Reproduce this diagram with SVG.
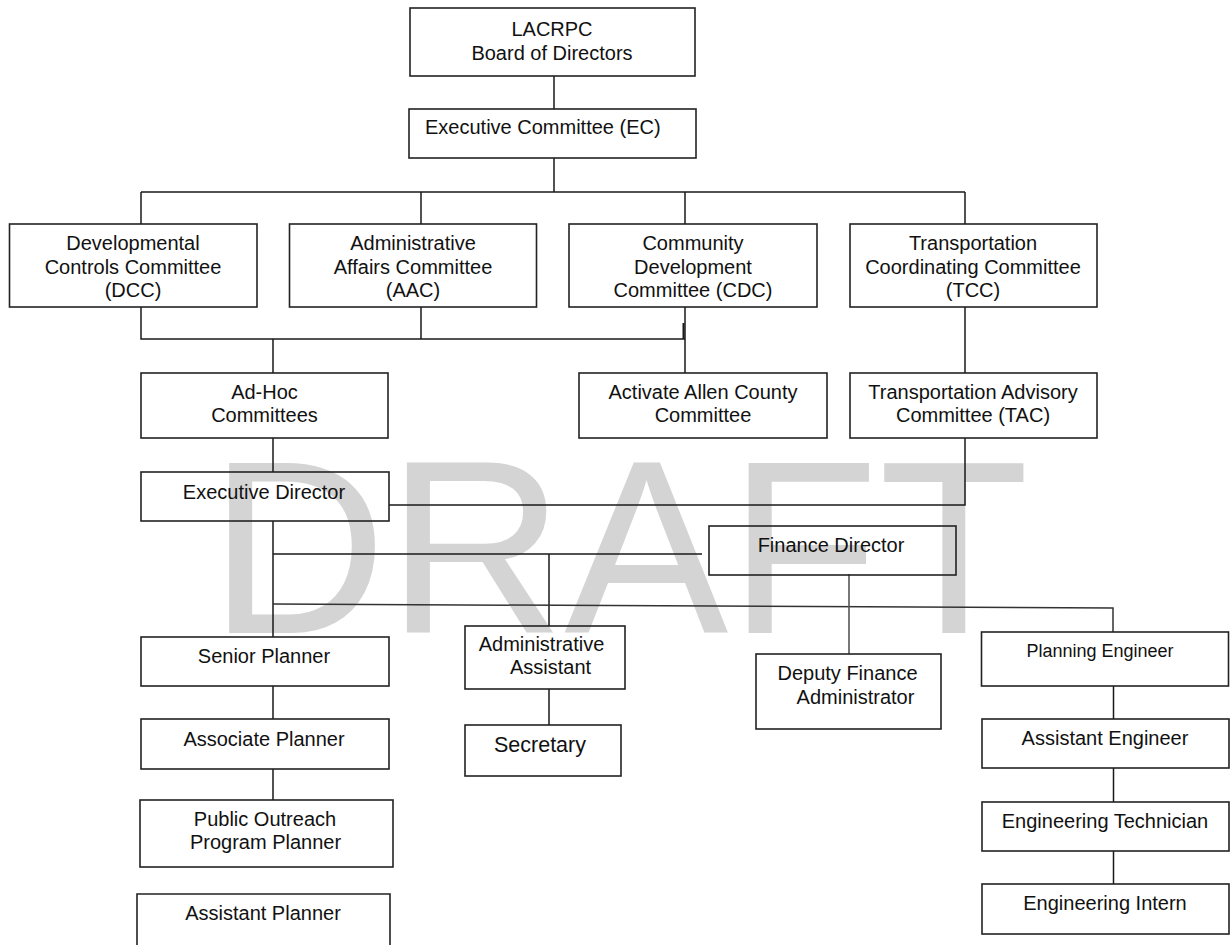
<svg xmlns="http://www.w3.org/2000/svg" width="1231" height="945" viewBox="0 0 1231 945">
<style>
.bx{fill:none;stroke:#222;stroke-width:1.6}
.ln{fill:none;stroke:#1a1a1a;stroke-width:1.5}
.gl{fill:none;stroke:#555;stroke-width:1.6}
text{font-family:"Liberation Sans",Arial,sans-serif;font-size:20px;fill:#111}
.c{text-anchor:middle}
.wm{font-size:246px;fill:#d4d4d4}
</style>
<rect width="1231" height="945" fill="#fff"/>
<text class="wm" x="209" y="633">DRAFT</text>
<g id="connectors">
<path class="ln" d="M554 76V109M554 158V192M141 192H965M141 192V224M421 192V224M685 192V224M965 192V224"/>
<path class="ln" d="M141 307V339H685M421 307V339M273 339V373M685 307V373M965 307V373"/>
<path class="ln" d="M683.5 323V339" style="stroke-width:2"/>
<path class="ln" d="M965 438V505H389M273 438V472"/>
<path class="ln" d="M273 521V637M273 554H702M549 554V626M273 686V719M273 769V800M549 689V725"/>
<path class="ln" d="M273 604L1113 608V632" style="stroke:#333"/>
<path class="gl" d="M849 574V654"/>
<path class="ln" d="M1113.5 686V719M1113.5 768V802M1113.5 851V884"/>
</g>
<g id="board"><rect class="bx" x="410" y="8" width="285" height="68"/><text class="c" x="552" y="36">LACRPC</text><text class="c" x="552" y="60">Board of Directors</text></g>
<g id="ec"><rect class="bx" x="409" y="109" width="287" height="49"/><text x="425" y="134">Executive Committee (EC)</text></g>
<g id="dcc"><rect class="bx" x="9.5" y="224" width="247.5" height="83"/><text class="c" x="133" y="250">Developmental</text><text class="c" x="133" y="273.5">Controls Committee</text><text class="c" x="133" y="297">(DCC)</text></g>
<g id="aac"><rect class="bx" x="289.5" y="224" width="247" height="83"/><text class="c" x="413" y="250">Administrative</text><text class="c" x="413" y="273.5">Affairs Committee</text><text class="c" x="413" y="297">(AAC)</text></g>
<g id="cdc"><rect class="bx" x="569" y="224" width="248" height="83"/><text class="c" x="693" y="250">Community</text><text class="c" x="693" y="273.5">Development</text><text class="c" x="693" y="297">Committee (CDC)</text></g>
<g id="tcc"><rect class="bx" x="850" y="224" width="247" height="83"/><text class="c" x="973" y="250">Transportation</text><text class="c" x="973" y="273.5">Coordinating Committee</text><text class="c" x="973" y="297">(TCC)</text></g>
<g id="adhoc"><rect class="bx" x="141" y="373" width="247" height="65"/><text class="c" x="264.5" y="399">Ad-Hoc</text><text class="c" x="264.5" y="422">Committees</text></g>
<g id="activate"><rect class="bx" x="579" y="373" width="248" height="65"/><text class="c" x="703" y="399">Activate Allen County</text><text class="c" x="703" y="422">Committee</text></g>
<g id="tac"><rect class="bx" x="850" y="373" width="247" height="65"/><text class="c" x="973" y="399">Transportation Advisory</text><text class="c" x="973" y="422">Committee (TAC)</text></g>
<g id="ed"><rect class="bx" x="141" y="472" width="248" height="49"/><text class="c" x="264" y="499">Executive Director</text></g>
<g id="fd"><rect class="bx" x="709" y="526" width="247" height="49"/><text class="c" x="831" y="552">Finance Director</text></g>
<g id="senior"><rect class="bx" x="141" y="637" width="248" height="49"/><text class="c" x="264" y="663">Senior Planner</text></g>
<g id="associate"><rect class="bx" x="141" y="719" width="248" height="50"/><text class="c" x="264" y="746">Associate Planner</text></g>
<g id="outreach"><rect class="bx" x="140" y="800" width="253" height="67"/><text class="c" x="265" y="826">Public Outreach</text><text class="c" x="265.5" y="849">Program Planner</text></g>
<g id="asstplanner"><path class="bx" d="M137 950V894H390V950"/><text class="c" x="263" y="920">Assistant Planner</text></g>
<g id="adminasst"><rect class="bx" x="465" y="626" width="160" height="63"/><text class="c" x="541.5" y="651">Administrative</text><text class="c" x="550.5" y="674">Assistant</text></g>
<g id="secretary"><rect class="bx" x="465" y="725" width="156" height="51"/><text class="c" x="540" y="752" style="font-size:21.5px">Secretary</text></g>
<g id="deputy"><rect class="bx" x="756" y="654" width="185" height="75"/><text class="c" x="847.5" y="680">Deputy Finance</text><text class="c" x="855.5" y="704">Administrator</text></g>
<g id="planeng"><rect class="bx" x="981.5" y="632" width="247" height="54"/><text class="c" x="1100" y="657" style="font-size:18px">Planning Engineer</text></g>
<g id="asstEng"><rect class="bx" x="982" y="719" width="247" height="49"/><text class="c" x="1105" y="745">Assistant Engineer</text></g>
<g id="engTech"><rect class="bx" x="982" y="802" width="247" height="49"/><text class="c" x="1105" y="828">Engineering Technician</text></g>
<g id="engIntern"><rect class="bx" x="982" y="884" width="247" height="50"/><text class="c" x="1105" y="910">Engineering Intern</text></g>
</svg>
